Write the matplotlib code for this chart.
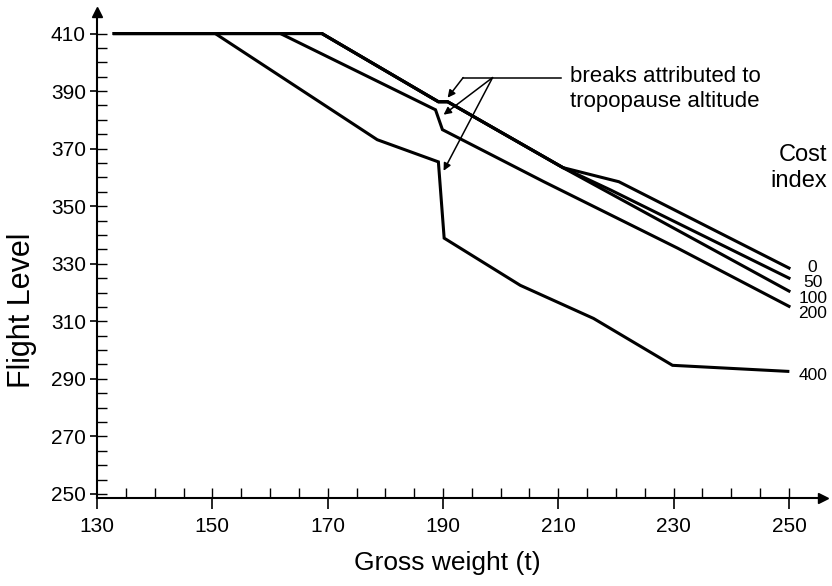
import matplotlib
matplotlib.use("Agg")
import matplotlib.pyplot as plt
from matplotlib.ticker import FixedLocator

plt.rcParams['font.family'] = ['Liberation Sans', 'DejaVu Sans']

# ==========================================
# DATA
# ==========================================
COST_INDEX = ["0", "50", "100", "200", "400"]

ci0_weight = [133, 169, 189.2, 190.8, 210.8, 220.5, 250]
ci0_fl = [410, 410, 386.3, 386.3, 363.4, 358.5, 328.5]

ci50_weight = [133, 169, 189.2, 190.8, 210.8, 219.1, 250]
ci50_fl = [410, 410, 386.3, 386.3, 363.4, 355.6, 325.0]

ci100_weight = [133, 169, 189.2, 190.8, 210.8, 250]
ci100_fl = [410, 410, 386.3, 386.3, 363.4, 320.5]

ci200_weight = [133, 161.8, 188.7, 189.9, 207.5, 230.7, 250]
ci200_fl = [410, 410, 383.5, 376.6, 358.5, 335.4, 315.2]

ci400_weight = [133, 150.5, 178.6, 189.2, 190.2, 203.4, 216.1, 229.8, 249.8]
ci400_fl = [410, 410, 373.1, 365.4, 338.9, 322.5, 311.0, 294.7, 292.6]

# end labels (placed just right of the curves)
label_fl = [328.8, 323.6, 318.0, 312.8, 291.2]

X_TICKS = list(range(130, 251, 20))
Y_TICKS = list(range(250, 411, 20))

# annotation geometry
NOTE_START = (193.5, 394.7)
NOTE_FORK = (198.6, 394.7)
NOTE_END_X = 210.4
NOTE_TIPS = [(190.8, 387.7), (190.1, 381.8), (190.1, 362.3)]


def main():
    fig = plt.figure(figsize=(8.32, 5.86), dpi=100)
    ax = fig.add_axes([0.1166, 0.1502, 0.8726, 0.8294])

    series = [
        (ci0_weight, ci0_fl),
        (ci50_weight, ci50_fl),
        (ci100_weight, ci100_fl),
        (ci200_weight, ci200_fl),
        (ci400_weight, ci400_fl),
    ]
    for (xs, ys), name, ly in zip(series, COST_INDEX, label_fl):
        ax.plot(xs, ys, color='black', lw=2.2, solid_joinstyle='miter')
        ax.text(254.1, ly, name, ha='center', va='center', fontsize=12.5,
                clip_on=False)

    ax.text(256.6, 363.3, "Cost\nindex", ha='right', va='center',
            fontsize=17, linespacing=1.25)

    # tropopause note
    ax.plot([NOTE_START[0], NOTE_END_X], [NOTE_START[1], NOTE_START[1]],
            color='black', lw=1.1)
    starts = [NOTE_START, NOTE_FORK, NOTE_FORK]
    for s, tip in zip(starts, NOTE_TIPS):
        ax.annotate('', xy=tip, xytext=s,
                    arrowprops=dict(arrowstyle='-|>', color='black', lw=1.1,
                                    shrinkA=0, shrinkB=0, mutation_scale=11))
    ax.text(212.0, 398.6, "breaks attributed to\ntropopause altitude",
            ha='left', va='top', fontsize=16, linespacing=1.2)

    ax.set_xlim(130, 255.9)
    ax.set_ylim(248.6, 417.5)

    for side in ['top', 'right']:
        ax.spines[side].set_visible(False)
    for side in ['left', 'bottom']:
        ax.spines[side].set_linewidth(1.5)

    ax.set_xticks(X_TICKS)
    ax.set_yticks(Y_TICKS)
    ax.xaxis.set_minor_locator(FixedLocator(list(range(135, 251, 5))))
    ax.yaxis.set_minor_locator(FixedLocator(list(range(250, 411, 5))))
    ax.xaxis.remove_overlapping_locs = False
    ax.yaxis.remove_overlapping_locs = False
    ax.tick_params(axis='x', which='major', direction='out', length=8,
                   width=1.2, labelsize=15, pad=6)
    ax.tick_params(axis='x', which='minor', direction='in', length=7, width=1.0)
    ax.tick_params(axis='y', which='major', direction='out', length=5,
                   width=1.2, labelsize=15, pad=3)
    ax.tick_params(axis='y', which='minor', direction='in', length=7, width=1.0)

    # axis arrow heads
    ax.plot(1, 0, '>k', ms=7, transform=ax.transAxes, clip_on=False)
    ax.plot(0, 1, '^k', ms=7, transform=ax.transAxes, clip_on=False)

    fig.text(22 / 832, 1 - 310 / 586, "Flight Level", rotation=90,
             ha='center', va='center', fontsize=22)
    fig.text(447 / 832, 1 - 563 / 586, "Gross weight (t)",
             ha='center', va='center', fontsize=19)

    fig.savefig("out.png", dpi=100)


if __name__ == "__main__":
    main()
